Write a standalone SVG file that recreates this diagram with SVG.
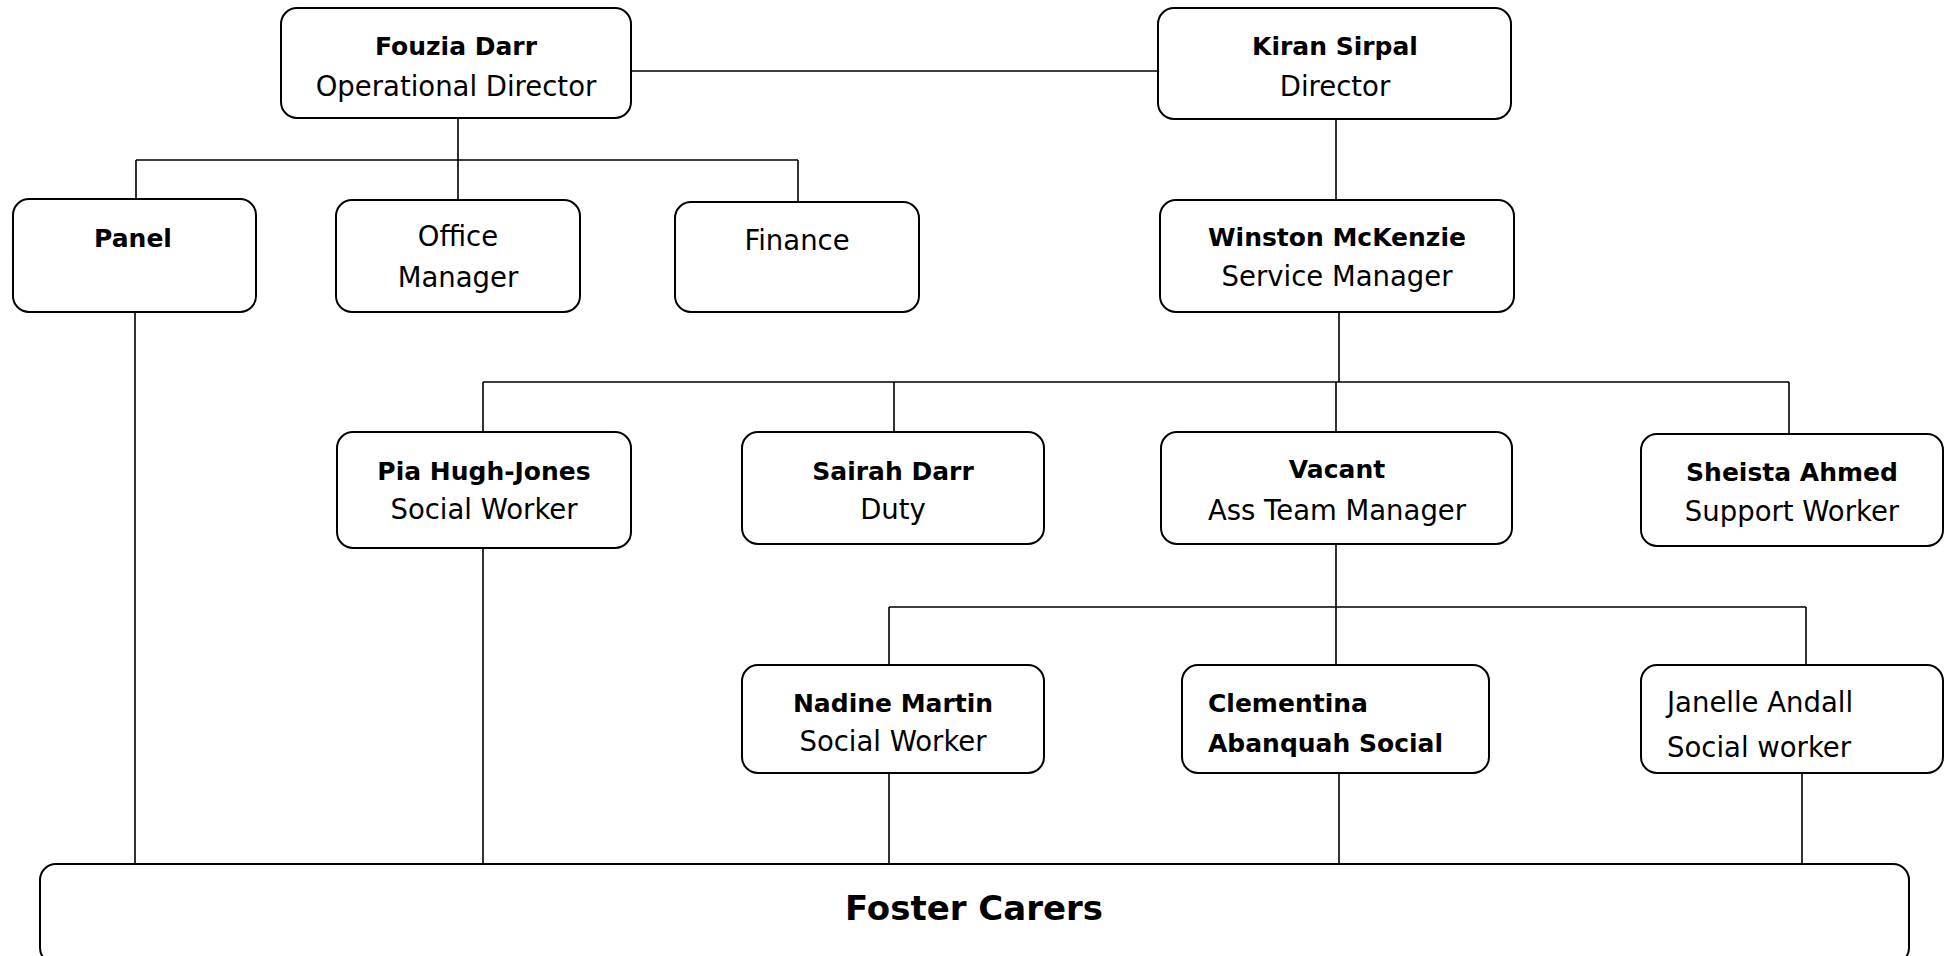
<svg xmlns="http://www.w3.org/2000/svg" width="1950" height="956" viewBox="0 0 1950 956">
<style>
.box{fill:#fff;stroke:#000;stroke-width:2}
.ln{stroke:#000;stroke-width:1.6;fill:none}
text{font-family:"Comic Sans MS","DejaVu Sans",sans-serif;font-size:27.5px;fill:#000}
.b{font-weight:bold;font-size:25px}
.c{text-anchor:middle}
</style>
<rect width="1950" height="956" fill="#fff"/>
<g id="connectors">
<path class="ln" d="M631 71H1158"/>
<path class="ln" d="M458 118V200M136 160H798M136 160V199M798 160V202"/>
<path class="ln" d="M1336 119V200"/>
<path class="ln" d="M1339 312V382M483 382H1789M483 382V432M894 382V432M1336 382V432M1789 382V434"/>
<path class="ln" d="M1336 544V665M889 607H1806M889 607V665M1806 607V665"/>
<path class="ln" d="M135 312V864M483 548V864M889 773V864M1339 773V864M1802 773V864"/>
</g>
<g id="fouzia"><rect class="box" x="281" y="8" width="350" height="110" rx="16"/><text class="c b" x="456" y="55">Fouzia Darr</text><text class="c" x="456" y="96">Operational Director</text></g>
<g id="kiran"><rect class="box" x="1158" y="8" width="353" height="111" rx="16"/><text class="c b" x="1335" y="55">Kiran Sirpal</text><text class="c" x="1335" y="96">Director</text></g>
<g id="panel"><rect class="box" x="13" y="199" width="243" height="113" rx="16"/><text class="c b" x="133" y="247">Panel</text></g>
<g id="office"><rect class="box" x="336" y="200" width="244" height="112" rx="16"/><text class="c" x="458" y="246">Office</text><text class="c" x="458" y="287">Manager</text></g>
<g id="finance"><rect class="box" x="675" y="202" width="244" height="110" rx="16"/><text class="c" x="797" y="250">Finance</text></g>
<g id="winston"><rect class="box" x="1160" y="200" width="354" height="112" rx="16"/><text class="c b" x="1337" y="246">Winston McKenzie</text><text class="c" x="1337" y="286">Service Manager</text></g>
<g id="pia"><rect class="box" x="337" y="432" width="294" height="116" rx="16"/><text class="c b" x="484" y="480">Pia Hugh-Jones</text><text class="c" x="484" y="519">Social Worker</text></g>
<g id="sairah"><rect class="box" x="742" y="432" width="302" height="112" rx="16"/><text class="c b" x="893" y="480">Sairah Darr</text><text class="c" x="893" y="519">Duty</text></g>
<g id="vacant"><rect class="box" x="1161" y="432" width="351" height="112" rx="16"/><text class="c b" x="1337" y="478">Vacant</text><text class="c" x="1337" y="520">Ass Team Manager</text></g>
<g id="sheista"><rect class="box" x="1641" y="434" width="302" height="112" rx="16"/><text class="c b" x="1792" y="481">Sheista Ahmed</text><text class="c" x="1792" y="521">Support Worker</text></g>
<g id="nadine"><rect class="box" x="742" y="665" width="302" height="108" rx="16"/><text class="c b" x="893" y="712">Nadine Martin</text><text class="c" x="893" y="751">Social Worker</text></g>
<g id="clementina"><rect class="box" x="1182" y="665" width="307" height="108" rx="16"/><text class="b" x="1208" y="712">Clementina</text><text class="b" x="1208" y="752">Abanquah Social</text></g>
<g id="janelle"><rect class="box" x="1641" y="665" width="302" height="108" rx="16"/><text x="1667" y="712">Janelle Andall</text><text x="1667" y="757">Social worker</text></g>
<g id="foster"><rect class="box" x="40" y="864" width="1869" height="100" rx="16"/><text class="c b" x="974" y="920" style="font-size:34px">Foster Carers</text></g>
</svg>
